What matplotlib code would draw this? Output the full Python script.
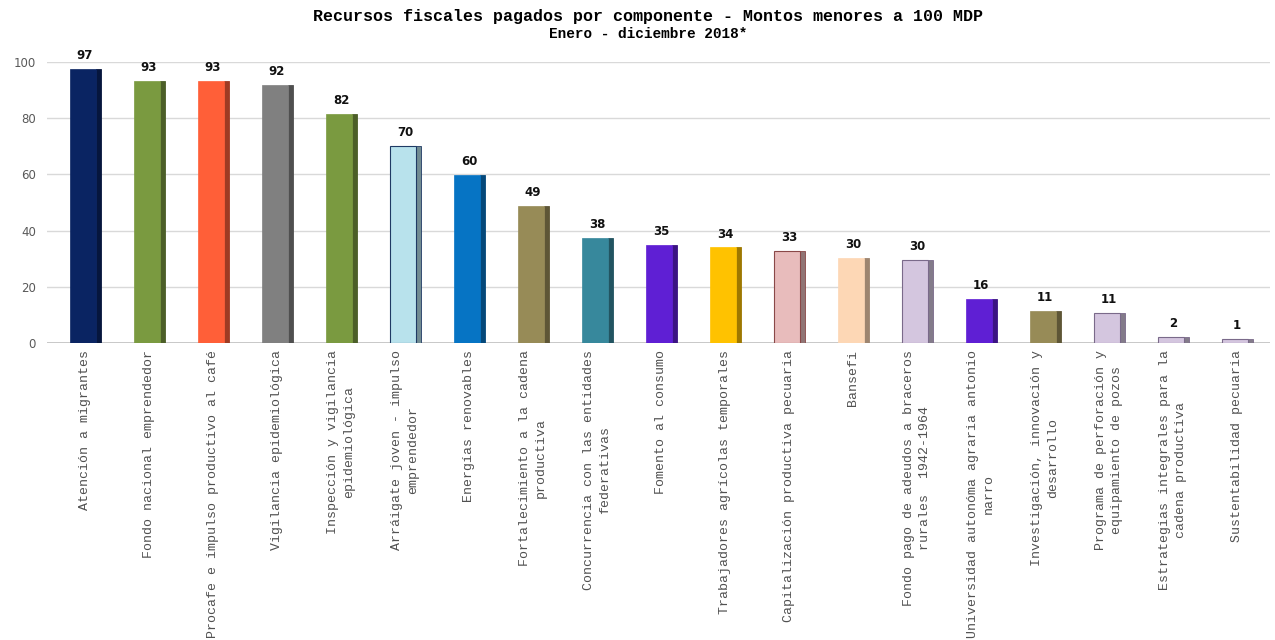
import matplotlib
matplotlib.use("Agg")
import matplotlib.pyplot as plt
from matplotlib.patches import Rectangle
import matplotlib.colors as mcolors

categories = [
    "Atención a migrantes",
    "Fondo nacional emprendedor",
    "Procafe e impulso productivo al café",
    "Vigilancia epidemiológica",
    "Inspección y vigilancia\nepidemiológica",
    "Arráigate joven - impulso\nemprendedor",
    "Energías renovables",
    "Fortalecimiento a la cadena\nproductiva",
    "Concurrencia con las entidades\nfederativas",
    "Fomento al consumo",
    "Trabajadores agrícolas temporales",
    "Capitalización productiva pecuaria",
    "Bansefi",
    "Fondo pago de adeudos a braceros\nrurales  1942-1964",
    "Universidad autonóma agraria antonio\nnarro",
    "Investigación, innovación y\ndesarrollo",
    "Programa de perforación y\nequipamiento de pozos",
    "Estrategias integrales para la\ncadena productiva",
    "Sustentabilidad pecuaria",
]
values = [97.4, 93.2, 93.2, 91.7, 81.6, 70.0, 59.8, 48.7, 37.5, 34.9, 34.0, 32.6, 30.3, 29.6, 15.7, 11.3, 10.8, 2.0, 1.3]
labels = ["97", "93", "93", "92", "82", "70", "60", "49", "38", "35", "34", "33", "30", "30", "16", "11", "11", "2", "1"]
colors = ["#0a2462", "#7a9a40", "#ff5f38", "#808080", "#7a9a40", "#b8e2ec", "#0674c4",
          "#978b57", "#37889c", "#5f1fd4", "#ffc200", "#e8bcbc", "#fdd7b5", "#d4c6df",
          "#5f1fd4", "#978b57", "#d4c6df", "#d4c6df", "#d4c6df"]
edges = [None, None, None, None, None, "#1f3a64", None, None, None, None, None, "#8a4848",
         None, "#7a6a8a", None, None, "#7a6a8a", "#7a6a8a", "#7a6a8a"]

W, H = 1275, 640
fig = plt.figure(figsize=(W / 100, H / 100), dpi=100)
ax_left, ax_right, ax_top, ax_bot = 47, 1270, 62, 343
ax = fig.add_axes([ax_left / W, 1 - ax_bot / H, (ax_right - ax_left) / W, (ax_bot - ax_top) / H])

slot = 64.0
ax.set_xlim(-0.5 - 6 / slot, len(values) - 0.5 + 1 / slot)
ax.set_ylim(0, 100)

front_l, front_r, side_r = -15 / slot, 11 / slot, 15.5 / slot

for i, (v, c, e) in enumerate(zip(values, colors, edges)):
    rgb = mcolors.to_rgb(c)
    dark = tuple(x * 0.62 for x in rgb)
    ec = e if e else c
    ax.add_patch(Rectangle((i + front_r, 0), side_r - front_r, v, facecolor=dark,
                           edgecolor=ec if e else dark, linewidth=0.6, zorder=3))
    ax.add_patch(Rectangle((i + front_l, 0), front_r - front_l, v, facecolor=c,
                           edgecolor=ec, linewidth=0.8 if e else 0.5, zorder=3))
    ax.annotate(labels[i], (i, v), xytext=(0, 5), textcoords="offset points",
                ha="center", va="bottom", fontsize=8.5, fontweight="bold",
                family="DejaVu Sans", color="#111111", zorder=4, clip_on=False)

for y in range(0, 101, 20):
    ax.axhline(y, color="#d9d9d9" if y else "#c8c8c8", linewidth=1.0 if y else 1.4, zorder=1)

for s in ax.spines.values():
    s.set_visible(False)

ax.set_yticks(range(0, 101, 20))
ax.set_yticklabels([str(y) for y in range(0, 101, 20)], family="DejaVu Sans",
                   fontsize=8.5, color="#595959")
ax.tick_params(axis="y", length=0, pad=8)

ax.set_xticks(range(len(categories)))
ax.set_xticklabels(categories, rotation=90, family="Liberation Mono", fontsize=9.5,
                   color="#505050", ha="center", va="top", linespacing=1.4,
                   multialignment="center")
ax.tick_params(axis="x", length=0, pad=5)

fig.text(648 / W, 1 - 17 / H, "Recursos fiscales pagados por componente - Montos menores a 100 MDP",
         ha="center", va="center", family="Liberation Mono", fontweight="bold", fontsize=12)
fig.text(648 / W, 1 - 34 / H, "Enero - diciembre 2018*",
         ha="center", va="center", family="Liberation Mono", fontweight="bold", fontsize=10.4)

fig.savefig("out.png", dpi=100, facecolor="white")
